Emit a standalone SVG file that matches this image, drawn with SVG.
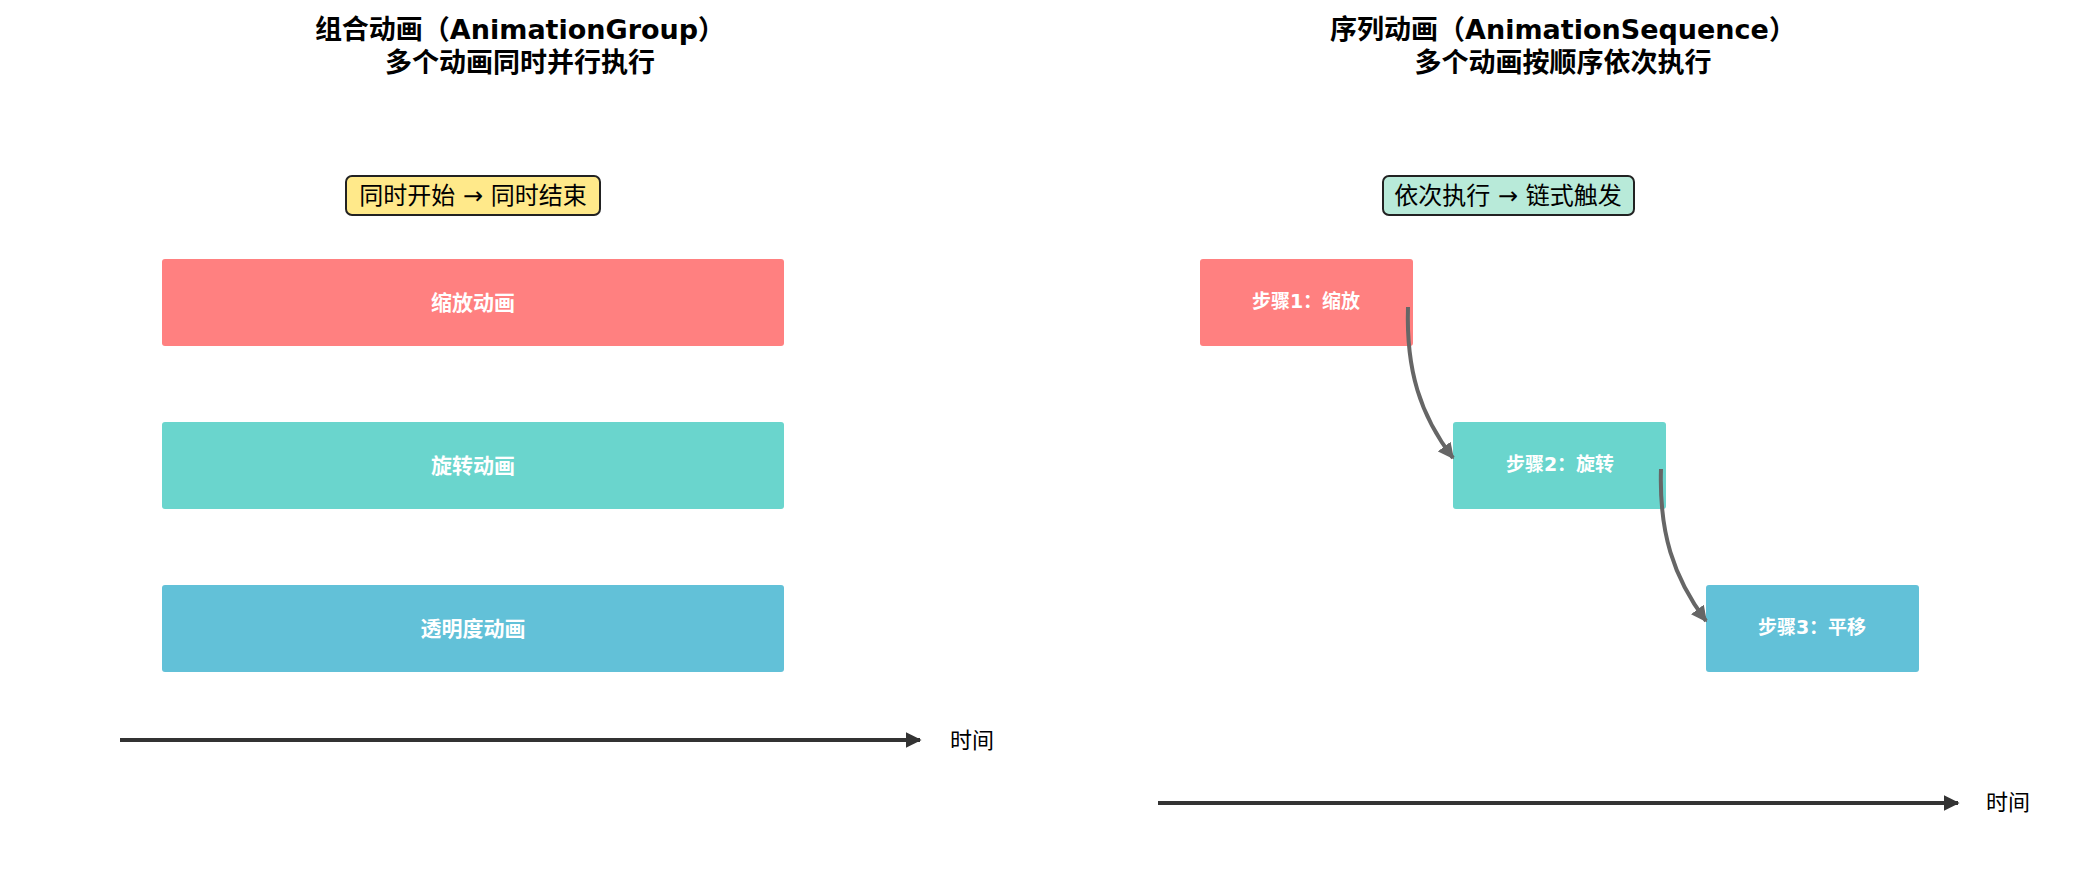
<svg xmlns="http://www.w3.org/2000/svg" width="2080" height="879" viewBox="0 0 2080 879">
<defs>
<style>
text{font-family:"DejaVu Sans","Noto Sans CJK SC",sans-serif}
.t{font-size:27px;font-weight:bold;text-anchor:middle;fill:#000}
.b{font-size:24px;text-anchor:middle;fill:#000}
.l{font-size:21px;font-weight:bold;text-anchor:middle;fill:#fff}
.s{font-size:19px;font-weight:bold;text-anchor:middle;fill:#fff}
.ax{stroke:#333;stroke-width:4;fill:none}
.cv{stroke:#666;stroke-width:4;fill:none}
</style>
<marker id="ah" viewBox="0 0 10 10" refX="9" refY="5" markerWidth="4" markerHeight="4" orient="auto"><path d="M0,0 L10,5 L0,10 z" fill="#333"/></marker>
<marker id="ag" viewBox="0 0 10 10" refX="9" refY="5" markerWidth="4" markerHeight="4" orient="auto"><path d="M0,0 L10,5 L0,10 z" fill="#666"/></marker>
</defs>
<rect width="2080" height="879" fill="#fff"/>
<g id="titles">
<text class="t" x="520" y="39">组合动画（AnimationGroup）</text>
<text class="t" x="520" y="72">多个动画同时并行执行</text>
<text class="t" x="1563" y="39">序列动画（AnimationSequence）</text>
<text class="t" x="1563" y="72">多个动画按顺序依次执行</text>
</g>
<g id="badge-left"><rect x="346" y="176" width="254" height="39" rx="6" fill="#FFE98A" stroke="#222" stroke-width="2"/><text class="b" x="473" y="204">同时开始 → 同时结束</text></g>
<g id="badge-right"><rect x="1383" y="176" width="251" height="39" rx="6" fill="#B8EAD9" stroke="#222" stroke-width="2"/><text class="b" x="1508" y="204">依次执行 → 链式触发</text></g>
<g id="bar-scale"><rect x="162" y="259" width="622" height="87" rx="3" fill="#FF8080"/><text class="l" x="473" y="310">缩放动画</text></g>
<g id="bar-rotate"><rect x="162" y="422" width="622" height="87" rx="3" fill="#6AD5CD"/><text class="l" x="473" y="473">旋转动画</text></g>
<g id="bar-alpha"><rect x="162" y="585" width="622" height="87" rx="3" fill="#62C1D8"/><text class="l" x="473" y="636">透明度动画</text></g>
<g id="step1"><rect x="1200" y="259" width="213" height="87" rx="3" fill="#FF8080"/><text class="s" x="1306" y="308">步骤1：缩放</text></g>
<g id="step2"><rect x="1453" y="422" width="213" height="87" rx="3" fill="#6AD5CD"/><text class="s" x="1560" y="471">步骤2：旋转</text></g>
<g id="step3"><rect x="1706" y="585" width="213" height="87" rx="3" fill="#62C1D8"/><text class="s" x="1812" y="634">步骤3：平移</text></g>
<g id="connectors">
<path class="ax" d="M120,740 L920,740" marker-end="url(#ah)"/>
<path class="ax" d="M1158,803 L1958,803" marker-end="url(#ah)"/>
<path class="cv" d="M1408,307 C1406,370 1420,415 1453,458" marker-end="url(#ag)"/>
<path class="cv" d="M1661,469 C1659,532 1673,577 1706,621" marker-end="url(#ag)"/>
</g>
<g id="axis-labels">
<text x="950" y="748" font-size="22" fill="#000">时间</text>
<text x="1986" y="810" font-size="22" fill="#000">时间</text>
</g>
</svg>
